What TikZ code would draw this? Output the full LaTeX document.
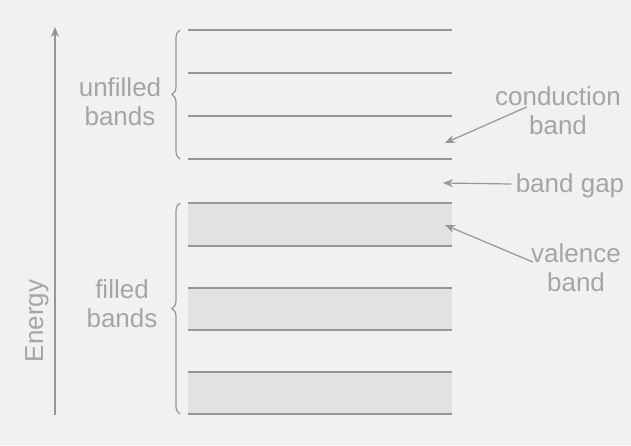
\documentclass[tikz,border=0pt]{standalone}
\usepackage{fontspec}
\setmainfont{Liberation Sans}
\usetikzlibrary{positioning, arrows.meta, decorations.pathreplacing}
\definecolor{paper}{RGB}{241,241,239}
\definecolor{ink}{RGB}{150,150,150}
\definecolor{inktext}{RGB}{165,165,165}
\definecolor{bandfill}{RGB}{226,226,226}
\tikzset{level/.style={draw=ink, line width=0.6pt},
label_t/.style={align=center, text=inktext, font=\fontsize{13}{14.5}\selectfont, inner sep=0pt},
group/.style={draw=ink, line width=0.6pt, decorate, decoration={brace, amplitude=4pt}},
pointer/.style={draw=ink, line width=0.6pt, -{Stealth[length=5pt, width=4pt]}}}

\begin{document}
\begin{tikzpicture}[x=0.5pt, y=-0.5pt]
  \fill[paper] (0,0) rectangle (631,445);
  \useasboundingbox (0,0) rectangle (631,445);
  % shaded filled bands
  \foreach \t/\b in {203/246, 288/330, 372/414}
    \fill[bandfill] (188,\t) rectangle (452,\b);
  % band edges
  \foreach \y in {30,73,116,159,203,246,288,330,372,414}
    \draw[level] (188,\y) -- (452,\y);
  % groups
  \coordinate (ubot) at (180,159);
  \coordinate (utop) at (180,30);
  \coordinate (fbot) at (180,414);
  \coordinate (ftop) at (180,203);
  \draw[group] (ubot) -- (utop);
  \draw[group] (fbot) -- (ftop);
  \node[label_t] (unfilled) at (120,102) {unfilled\\bands};
  \node[label_t] (filled) at (122,304) {filled\\bands};
  % energy axis
  \coordinate (ebot) at (55,415);
  \coordinate (etop) at (55,27);
  \draw[pointer] (ebot) -- (etop);
  \node[label_t, rotate=90] (energy) at (37,321) {Energy};
  % labels on the right
  \node[label_t] (cond) at (558,111) {conduction\\band};
  \node[label_t] (gap) at (570,186) {band gap};
  \node[label_t] (val) at (576,268) {valence\\band};
  \coordinate (condtip) at (445,143);
  \coordinate (gaptip) at (443,183);
  \coordinate (valtip) at (445,225);
  \draw[pointer] ([xshift=16pt, yshift=2pt]cond.west) -- (condtip);
  \draw[pointer] ([xshift=-2pt, yshift=1pt]gap.west) -- (gaptip);
  \draw[pointer] ([xshift=1pt, yshift=3pt]val.west) -- (valtip);
\end{tikzpicture}
\end{document}
